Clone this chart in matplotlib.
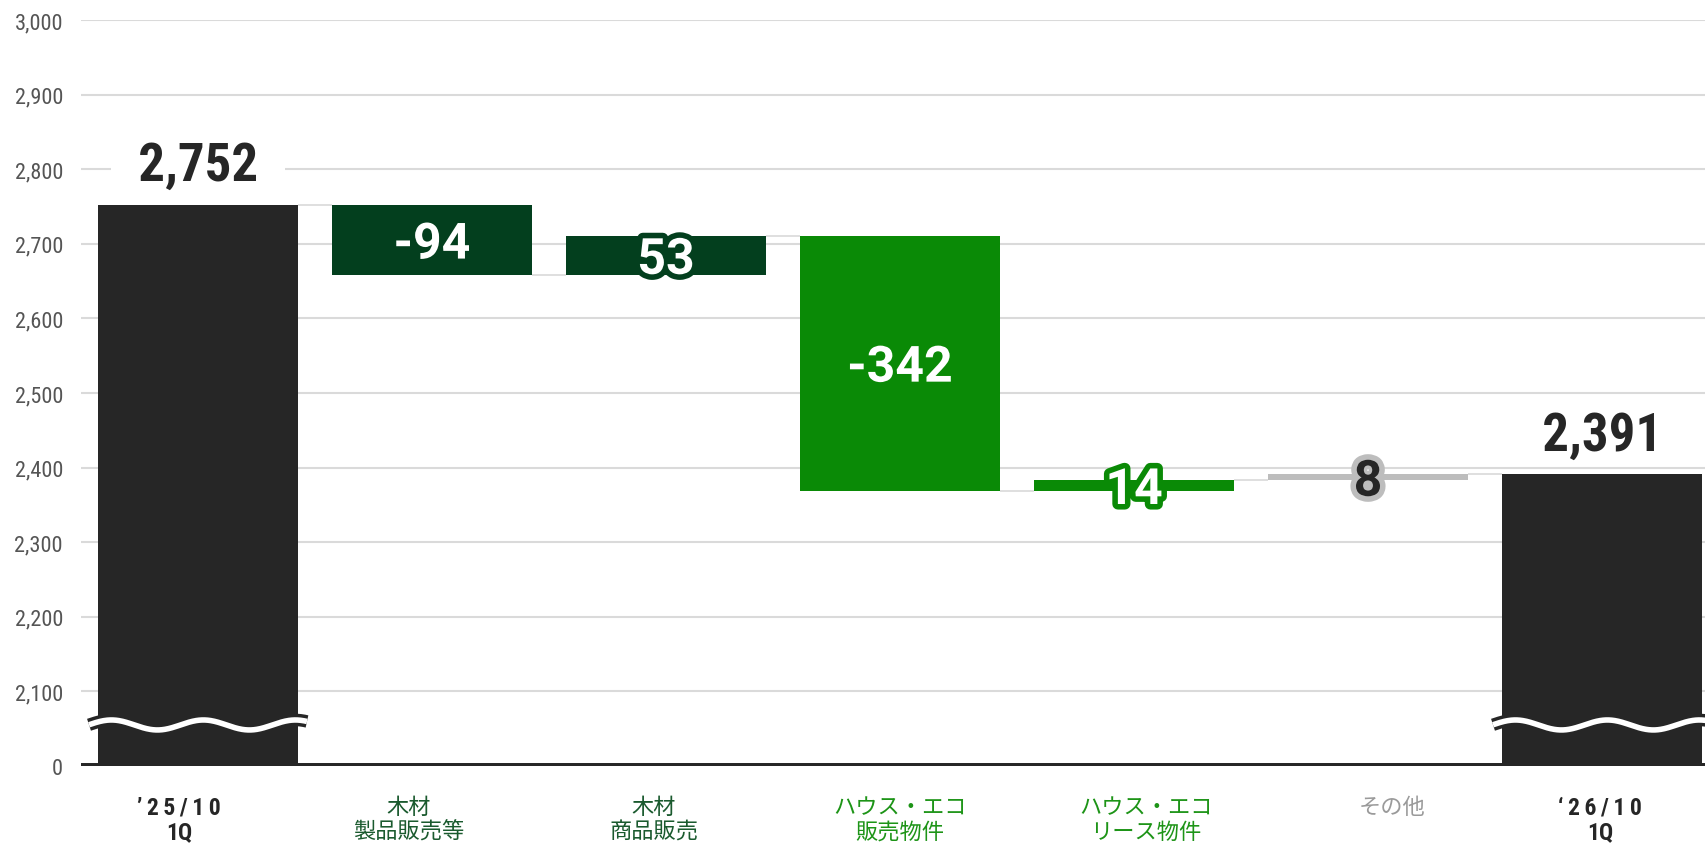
import numpy as np
import matplotlib
matplotlib.use("Agg")
import matplotlib.pyplot as plt
import matplotlib.patheffects as pe
from matplotlib import font_manager

# data
categories = ["\u2019\u20092\u20095\u2009/\u20091\u20090\n1Q", "木材\n製品販売等", "木材\n商品販売",
              "ハウス・エコ\n販売物件", "ハウス・エコ\nリース物件", "その他",
              "\u2018\u20092\u20096\u2009/\u20091\u20090\n1Q"]
start_total = 2752
changes = [-94, 53, -342, 14, 8]
end_total = 2391
ytick_values = [2000, 2100, 2200, 2300, 2400, 2500, 2600, 2700, 2800, 2900, 3000]
ytick_labels = ["0", "2,100", "2,200", "2,300", "2,400", "2,500", "2,600",
                "2,700", "2,800", "2,900", "3,000"]

bar_colors = ["#262626", "#033f1e", "#033f1e", "#0a8a06", "#0a8a06", "#bdbdbd", "#262626"]
label_colors = ["#262626", "#1a5a2e", "#1a5a2e", "#1d9417", "#1d9417", "#9a9a9a", "#262626"]
change_text_colors = ["white", "white", "white", "white", "#262626"]
# category labels are not exactly under the bars (px shift)
label_shift = [-19, -23, -12, 0, 12, 24, -2]

names = {f.name for f in font_manager.fontManager.ttflist}
num_font = "DejaVu Sans"
for cand in ["Roboto Condensed", "Liberation Sans Narrow", "DejaVu Sans Condensed"]:
    if cand in names:
        num_font = cand
        break
wide_font = "Roboto" if "Roboto" in names else "DejaVu Sans"
jp_font = "Noto Sans CJK JP"

fig = plt.figure(figsize=(17.06, 8.45), dpi=100)
ax = fig.add_axes([81 / 1706, 1 - 767 / 845, (1706 - 81) / 1706, (767 - 21) / 845])
ax.set_xlim(-0.5, -0.5 + 1625 / 234)
ax.set_ylim(2000, 3000)

# waterfall geometry
bottoms, heights = [], []
level = start_total
bottoms.append(2000); heights.append(start_total - 2000)
for c in changes:
    new = level + c
    bottoms.append(min(level, new)); heights.append(abs(c))
    level = new
bottoms.append(2000); heights.append(end_total - 2000)
levels = np.cumsum([start_total] + changes)

x = np.arange(len(categories))
w = 200 / 234
ax.bar(x, heights, bottom=bottoms, width=w, color=bar_colors, zorder=3)

# connectors
for i in range(len(categories) - 1):
    ax.hlines(levels[i], x[i] + w / 2, x[i + 1] - w / 2, color="#dcdcdc", lw=1.3, zorder=2)

# grid
for v in ytick_values[1:]:
    ax.axhline(v, color="#dadada", lw=1.5, zorder=1)
ax.axhline(2000, color="#262626", lw=4.3, zorder=4)

# wave breaks on the total bars
px_x = 234.0  # px per x unit
px_y = 746 / 1000.0  # px per y unit
for i in [0, len(categories) - 1]:
    xs = np.linspace(x[i] - w / 2 - 9 / px_x, x[i] + w / 2 + 9 / px_x, 300)
    ys = 2055 + (5 / px_y) * np.sin((xs - x[i]) * px_x / 92 * 2 * np.pi + 1.2)
    ax.plot(xs, ys, color="#262626", lw=9, solid_capstyle="butt", zorder=5)
    ax.plot(xs, ys, color="white", lw=4, solid_capstyle="butt", zorder=6)

# total labels
for i, v in [(0, start_total), (len(categories) - 1, end_total)]:
    ax.annotate(f"  {v:,}  ", (x[i], v), xytext=(0, 10), textcoords="offset points",
                ha="center", va="bottom", fontsize=38, fontweight="bold",
                family=num_font, color="#262626", zorder=7,
                bbox=dict(boxstyle="square,pad=0.05", fc="white", ec="none"))

# change labels
for j, c in enumerate(changes):
    i = j + 1
    yc = bottoms[i] + heights[i] / 2
    ax.text(x[i], yc, f"{c}", ha="center", va="center_baseline", fontsize=36,
            fontweight="bold", family=wide_font, color=change_text_colors[j], zorder=8,
            path_effects=[pe.withStroke(linewidth=8, foreground=bar_colors[i])])

ax.set_yticks(ytick_values)
ax.set_yticklabels(ytick_labels, family=num_font, fontsize=16, color="#555555")
ax.set_xticks(x + np.array(label_shift) / px_x)
ax.set_xticklabels(categories, fontsize=16, linespacing=1.1)
for t, col, cat in zip(ax.get_xticklabels(), label_colors, categories):
    t.set_color(col)
    if "1Q" in cat:
        t.set_family([num_font, "DejaVu Sans"])
        t.set_fontweight("bold")
        t.set_fontsize(17)
    else:
        t.set_family([jp_font, "DejaVu Sans"])
ax.tick_params(axis="y", length=0, pad=13)
ax.tick_params(axis="x", length=0, pad=21)
for s in ax.spines.values():
    s.set_visible(False)

fig.savefig("out.png", dpi=100)
